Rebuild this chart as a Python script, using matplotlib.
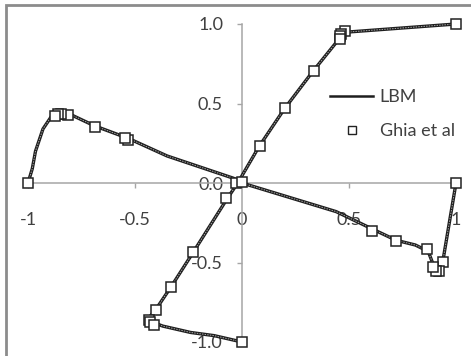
import matplotlib
matplotlib.use("Agg")
import matplotlib.pyplot as plt
from matplotlib.patches import Rectangle
from matplotlib.lines import Line2D

# Ghia et al. benchmark (centerlines, coordinates scaled to [-1, 1])
ghia_u_y = [1.0, 0.953, 0.938, 0.922, 0.906, 0.703, 0.469, 0.234, 0.0,
            -0.094, -0.437, -0.656, -0.797, -0.859, -0.875, -0.891, -1.0]
ghia_u = [1.0, 0.482, 0.461, 0.460, 0.460, 0.336, 0.201, 0.082, -0.030,
          -0.074, -0.229, -0.331, -0.404, -0.436, -0.429, -0.412, 0.0]

ghia_v_x = [1.0, 0.938, 0.922, 0.906, 0.891, 0.865, 0.719, 0.609, 0.0,
            -0.531, -0.547, -0.687, -0.812, -0.844, -0.859, -0.875, -1.0]
ghia_v = [0.0, -0.498, -0.551, -0.554, -0.529, -0.414, -0.362, -0.300, 0.009,
          0.273, 0.281, 0.354, 0.430, 0.436, 0.433, 0.424, 0.0]

# LBM results along the same centerlines
lbm_u_y = [-1.0, -0.96, -0.94, -0.90, -0.87, -0.84, -0.79, -0.65, -0.44,
           -0.10, 0.0, 0.23, 0.47, 0.70, 0.90, 0.95, 1.0]
lbm_u = [0.0, -0.13, -0.24, -0.37, -0.43, -0.43, -0.40, -0.33, -0.23,
         -0.07, -0.02, 0.08, 0.20, 0.33, 0.45, 0.50, 1.0]

lbm_v_x = [-1.0, -0.98, -0.965, -0.93, -0.89, -0.85, -0.80, -0.69, -0.53,
           -0.35, -0.04, 0.0, 0.44, 0.61, 0.72, 0.81, 0.87, 0.89, 0.91, 0.94, 1.0]
lbm_v = [0.0, 0.09, 0.20, 0.34, 0.42, 0.445, 0.43, 0.36, 0.28,
         0.17, 0.03, 0.0, -0.18, -0.29, -0.36, -0.39, -0.43, -0.50, -0.535, -0.48, 0.0]

x_ticks = [-1, -0.5, 0, 0.5, 1]
x_tick_labels = ["-1", "-0.5", "0", "0.5", "1"]
y_ticks = [-1.0, -0.5, 0.0, 0.5, 1.0]
y_tick_labels = ["-1.0", "-0.5", "0.0", "0.5", "1.0"]

plt.rcParams["font.family"] = ["Lato", "DejaVu Sans"]
text_color = "#404040"
axis_color = "#a6a6a6"

W, H = 471, 356
fig = plt.figure(figsize=(W / 100, H / 100), dpi=100)
fig.patch.set_facecolor("white")

# outer chart frame
fig.patches.append(Rectangle((6 / W, -0.2), 1.3, (H - 5) / H + 0.2,
                             transform=fig.transFigure, fill=False,
                             edgecolor="#8c8c8c", linewidth=2.0))

ax = fig.add_axes([28 / W, 14 / H, 428 / W, 318 / H])
ax.set_xlim(-1, 1)
ax.set_ylim(-1, 1)
ax.set_facecolor("none")

for side in ("top", "right"):
    ax.spines[side].set_visible(False)
for side in ("left", "bottom"):
    ax.spines[side].set_position(("data", 0))
    ax.spines[side].set_color(axis_color)
    ax.spines[side].set_linewidth(1.1)

ax.set_xticks(x_ticks)
ax.set_xticklabels(x_tick_labels)
ax.set_yticks(y_ticks)
ax.set_yticklabels(y_tick_labels)
ax.tick_params(axis="both", direction="out", length=3.6, width=1.0,
               color=axis_color, labelcolor=text_color, labelsize=13)
ax.tick_params(axis="x", pad=17)
ax.tick_params(axis="y", pad=10)


def draw_lbm(xs, ys):
    ax.plot(xs, ys, color="#1e1e1e", linewidth=2.4, solid_capstyle="round",
            zorder=3, clip_on=False)
    ax.plot(xs, ys, color="#a8a8a8", linewidth=0.7, dashes=(1.5, 1.2),
            zorder=3.5, clip_on=False)


draw_lbm(lbm_u, lbm_u_y)
draw_lbm(lbm_v_x, lbm_v)

marker_style = dict(linestyle="none", marker="s", markersize=7.5,
                    markerfacecolor="white", markeredgecolor="#222222",
                    markeredgewidth=1.1, zorder=4, clip_on=False)
ax.plot(ghia_u, ghia_u_y, **marker_style)
ax.plot(ghia_v_x, ghia_v, **marker_style)

handles = [
    Line2D([], [], color="#1e1e1e", linewidth=1.8),
    Line2D([], [], linestyle="none", marker="s", markersize=5.5,
           markerfacecolor="white", markeredgecolor="#222222",
           markeredgewidth=1.0),
]
leg = ax.legend(handles, ["LBM", "Ghia et al"], loc="upper left",
                bbox_to_anchor=(330 / W, 1 - 89 / H),
                bbox_transform=fig.transFigure, frameon=False,
                fontsize=13, handlelength=2.4, handletextpad=0.35,
                labelspacing=1.0, borderpad=0, borderaxespad=0)
for t in leg.get_texts():
    t.set_color(text_color)

fig.savefig("out.png", dpi=100, facecolor="white")
